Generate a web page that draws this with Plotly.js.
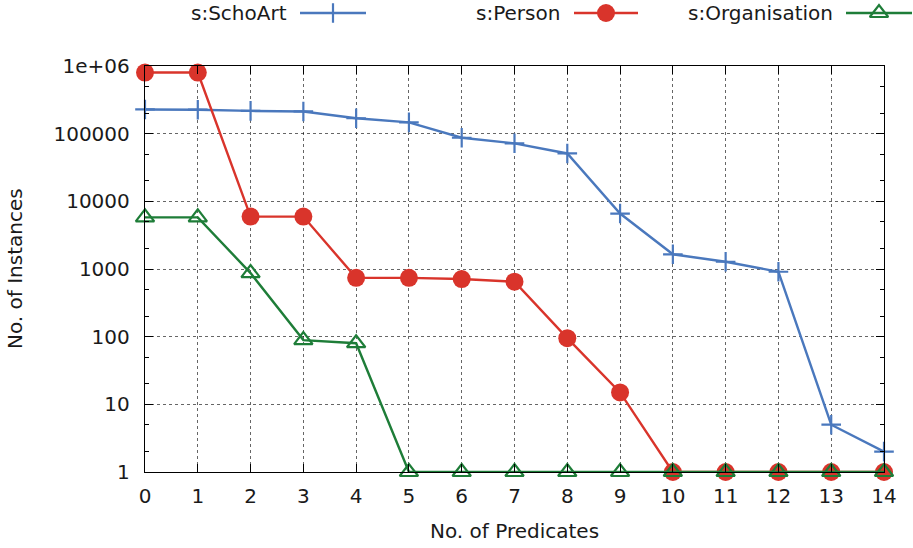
<!DOCTYPE html>
<html>
<head>
<meta charset="utf-8">
<script src="https://cdn.plot.ly/plotly-3.0.1.min.js"></script>
<style>html,body{margin:0;padding:0;background:#fff;}#chart{width:913px;height:548px;}</style>
</head>
<body>
<div id="chart"></div>
<script>
// ---- data ----
const predicates = [0, 1, 2, 3, 4, 5, 6, 7, 8, 9, 10, 11, 12, 13, 14];
const schoArt = [228000, 226000, 217000, 213000, 169000, 147000, 87000, 72000, 51000, 6600, 1650, 1280, 910, 5, 2];
const person = [800000, 800000, 5950, 5950, 740, 740, 710, 650, 95, 15, 1, 1, 1, 1, 1];
const organisation = [5800, 5800, 870, 89, 80, 1, 1, 1, 1, 1, 1, 1, 1, 1, 1];
const seriesNames = ["s:SchoArt", "s:Person", "s:Organisation"];
const yTickVals = [1, 10, 100, 1000, 10000, 100000, 1000000];
const yTickText = ["1", "10", "100", "1000", "10000", "100000", "1e+06"];
const xTitle = "No. of Predicates";
const yTitle = "No. of Instances";

// ---- styles ----
const W = 913, H = 548;
const plotBox = {left: 145, right: 884, top: 66, bottom: 472};
const FONT = "DejaVu Sans, Liberation Sans, sans-serif";
const TXT = "#1a1a1a";
const styles = [
  {color: "#4a78bd", symbol: "cross-thin", size: 14, lineW: 2.4, mw: 2.2},
  {color: "#d9342b", symbol: "circle", size: 18, lineW: 2.4, mw: 0},
  {color: "#1e7d38", symbol: "triangle-up-open", size: 16, lineW: 2.4, mw: 2.2}
];
// legend sample placement (pixels from left, text right edge & sample line span)
const legendPos = [
  {textRight: 289, x0: 300, x1: 366},
  {textRight: 562, x0: 574, x1: 638},
  {textRight: 835, x0: 846, x1: 912}
];
const legendY = 13;

function markerOf(st) {
  return {symbol: st.symbol, size: st.size, color: st.color,
    line: {color: st.color, width: st.mw}};
}

const values = [schoArt, person, organisation];
const traces = values.map((v, i) => ({
  x: predicates, y: v, name: seriesNames[i], type: "scatter", mode: "lines+markers",
  xaxis: "x", yaxis: "y", cliponaxis: false, showlegend: false,
  line: {color: styles[i].color, width: styles[i].lineW},
  marker: markerOf(styles[i])
}));

// legend samples on an auxiliary pixel-mapped axis pair
const annotations = [];
legendPos.forEach((p, i) => {
  const st = styles[i];
  traces.push({
    x: [p.x0, p.x1], y: [0, 0], type: "scatter", mode: "lines",
    xaxis: "x2", yaxis: "y2", cliponaxis: false, showlegend: false, hoverinfo: "skip",
    line: {color: st.color, width: st.lineW}
  });
  traces.push({
    x: [(p.x0 + p.x1) / 2], y: [0], type: "scatter", mode: "markers",
    xaxis: "x2", yaxis: "y2", cliponaxis: false, showlegend: false, hoverinfo: "skip",
    marker: markerOf(st)
  });
  annotations.push({
    xref: "x2", yref: "y2", x: p.textRight, y: 0, xanchor: "right", yanchor: "middle",
    text: seriesNames[i], showarrow: false, font: {family: FONT, size: 20, color: TXT}
  });
});

annotations.push({
  xref: "paper", yref: "paper", x: (plotBox.left + plotBox.right) / 2 / W, y: 1 - 531 / H,
  xanchor: "center", yanchor: "middle", text: xTitle, showarrow: false,
  font: {family: FONT, size: 20, color: TXT}
});
annotations.push({
  xref: "paper", yref: "paper", x: 15 / W, y: 1 - 269 / H,
  xanchor: "center", yanchor: "middle", text: yTitle, showarrow: false, textangle: -90,
  font: {family: FONT, size: 20, color: TXT}
});

const gridCol = "rgba(0,0,0,0.6)";
const layout = {
  width: W, height: H,
  margin: {l: 0, r: 0, t: 0, b: 0, pad: 0},
  paper_bgcolor: "#fff", plot_bgcolor: "rgba(0,0,0,0)",
  font: {family: FONT, size: 20, color: TXT},
  showlegend: false,
  xaxis: {
    domain: [plotBox.left / W, plotBox.right / W],
    range: [0, 14], dtick: 1, tick0: 0,
    showline: true, mirror: "ticks", linecolor: "#000", linewidth: 1.2,
    ticks: "inside", ticklen: 8, tickwidth: 1, tickcolor: "#000",
    showgrid: true, gridcolor: gridCol, griddash: "dot", gridwidth: 1,
    zeroline: false, ticklabelstandoff: 6,
    tickfont: {family: FONT, size: 20, color: TXT}
  },
  yaxis: {
    domain: [1 - plotBox.bottom / H, 1 - plotBox.top / H],
    type: "log", range: [0, 6],
    tickvals: yTickVals, ticktext: yTickText,
    showline: true, mirror: "ticks", linecolor: "#000", linewidth: 1.2,
    ticks: "inside", ticklen: 8, tickwidth: 1, tickcolor: "#000",
    minor: {ticks: "inside", ticklen: 4, dtick: "D2", tickcolor: "#000", showgrid: false},
    showgrid: true, gridcolor: gridCol, griddash: "dot", gridwidth: 1,
    zeroline: false, ticklabelstandoff: 10,
    tickfont: {family: FONT, size: 20, color: TXT}
  },
  xaxis2: {domain: [0, 1], range: [0, W], visible: false, fixedrange: true, anchor: "y2"},
  yaxis2: {domain: [1 - 2 * legendY / H, 1], range: [-1, 1], visible: false, fixedrange: true, anchor: "x2"},
  annotations: annotations
};

Plotly.newPlot("chart", traces, layout, {displayModeBar: false, staticPlot: true});
</script>
</body>
</html>
